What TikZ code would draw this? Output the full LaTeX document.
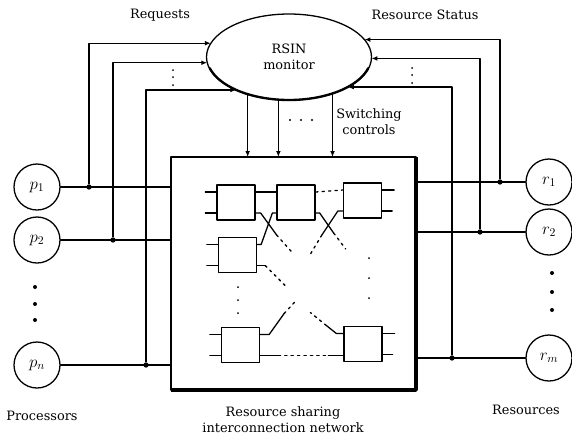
\documentclass[tikz,border=0pt]{standalone}
\usepackage{fontspec}
\setmainfont{DejaVu Serif}
\usetikzlibrary{calc, arrows.meta, shapes.geometric, positioning}
\tikzset{el/.style={line cap=round, line join=round, line width=1.1pt},
  unit/.style={draw, circle, minimum size=1.38cm, inner sep=0pt, font=\Large},
  swbox/.style={draw, rectangle, minimum width=1.14cm, minimum height=1.05cm, inner sep=0pt},
  dotline/.style={dash pattern=on 2pt off 3.5pt},
  jdot/.style={fill, circle, inner sep=0pt, minimum size=4.5pt},
  arr/.style={-{Latex[length=5pt,width=4pt]}}}

\begin{document}
\begin{tikzpicture}[el, x=0.03cm, y=-0.03cm, font=\fontsize{11}{13.6}\selectfont]
  \useasboundingbox (0,0) rectangle (572,438);
  % monitor and network
  \node[draw, ellipse, minimum width=4.95cm, minimum height=2.58cm, inner sep=0pt, outer sep=0pt, align=center] (mon) at (289,57) {RSIN\\monitor};
  \draw[line width=2pt] plot[domain=15:165, samples=40, smooth] ({289+82*cos(\x)},{57+43*sin(\x)});
  \node[draw, minimum width=7.35cm, minimum height=6.99cm, inner sep=0pt, outer sep=0pt] (net) at (293.5,273.5) {};
  \draw[line width=3pt, line cap=butt] (net.north east) -- (net.south east) -- (net.south west);
  % processors and resources
  \node[unit] (p1) at (37,187) {$p_1$};
  \node[unit] (p2) at (37,240) {$p_2$};
  \node[unit] (pn) at (37,365) {$p_n$};
  \node[unit] (r1) at (549,182) {$r_1$};
  \node[unit] (r2) at (549,232) {$r_2$};
  \node[unit] (rm) at (549,358) {$r_m$};
  \foreach \y in {287,304,320}{\fill (35,\y) circle (2);}
  \foreach \y in {273,292,310}{\fill (552,\y) circle (2);}
  \foreach \p in {p1,p2,pn}{\draw (\p) -- (\p -| net.west);}
  \foreach \r in {r1,r2,rm}{\draw (\r) -- (\r -| net.east);}
  \node[jdot] (j1) at (89,187) {};
  \node[jdot] (j2) at (113,240) {};
  \node[jdot] (jn) at (146,365) {};
  \node[jdot] (k1) at (500,182) {};
  \node[jdot] (k2) at (480,232) {};
  \node[jdot] (km) at (452,358) {};
  \draw[arr] (j1) |- (mon.170);
  \draw[arr] (j2) |- (mon.184);
  \draw[arr] (jn) |- (mon.212);
  \draw[arr] (k1) |- (mon.13);
  \draw[arr] (k2) |- (mon.359);
  \draw[arr] (km) |- (mon.333);
  \foreach \y in {70,77,85}{\fill (173,\y) circle (1); \fill (412,\y-2) circle (1);}
  % switching controls
  \foreach \a in {222,256,320}{\draw[arr] (mon.\a) -- (mon.\a |- net.north);}
  \foreach \x in {290,301,312}{\fill (\x,120) circle (1.1);}
  % switches
  \node[swbox] (A) at (236,202.5) {};
  \node[swbox] (B) at (296,202.5) {};
  \node[swbox] (C) at (362.5,200.5) {};
  \node[swbox] (D) at (237.5,255) {};
  \node[swbox] (E) at (240.5,345) {};
  \node[swbox] (F) at (363,344) {};
  \foreach \s in {A,B,C,D,E,F}{
    \coordinate (\s-i1) at ($(\s.west)+(0,-10.5)$);
    \coordinate (\s-i2) at ($(\s.west)+(0,10.5)$);
    \coordinate (\s-o1) at ($(\s.east)+(0,-10.5)$);
    \coordinate (\s-o2) at ($(\s.east)+(0,10.5)$);}
  \foreach \s in {A,D,E}{\draw (\s-i1) -- ++(-11,0); \draw (\s-i2) -- ++(-11,0);}
  \foreach \s in {C,F}{\draw (\s-o1) -- ++(12,0); \draw (\s-o2) -- ++(10,0);}
  \draw (A-o1) -- (B-i1);
  \draw[dotline] (B-o1) -- (C-i1);
  \draw (D-o1) -- ++(4,0) -- ($(B-i2)+(-4,0)$) -- (B-i2);
  \draw (A-o2) -- ++(5,0) -- ++(16,22) coordinate (a2);
  \draw[dotline] (a2) -- ++(16,18);
  \draw (B-o2) -- ++(4,0) -- ++(14,20) coordinate (b2);
  \draw[dotline] (b2) -- ++(12,16);
  \draw (C-i2) -- ++(-5,0) -- ++(-16,24) coordinate (c2);
  \draw[dotline] (c2) -- ++(-12,20);
  \draw (D-o2) -- ++(8,0) coordinate (d2);
  \draw[dotline] (d2) -- ++(20,20);
  \draw (E-o1) -- ++(9,0) -- ++(15,-21) coordinate (e1);
  \draw[dotline] (e1) -- ++(12,-13);
  \draw (F-i1) -- ++(-7,0) -- ++(-10,-8) coordinate (f1);
  \draw[dotline] (f1) -- ++(-16,-13);
  \draw (E-o2) -- ++(18,0) coordinate (e2);
  \draw[dotline] (e2) -- ($(E-o2 -| F.west)+(-15,0)$) coordinate (f2);
  \draw (f2) -- (E-o2 -| F.west);
  \foreach \y in {287,300,313}{\fill (238,\y) circle (1);}
  \foreach \y in {258,278,298}{\fill (369,\y) circle (1);}
  % labels
  \node (req) at (160,15) {Requests};
  \node (stat) at (425,15) {Resource Status};
  \node[align=center] (swc) at (369,122) {Switching\\controls};
  \node (proc) at (42,416) {Processors};
  \node[align=center] (rsn) at (283,420) {Resource sharing\\interconnection network};
  \node (res) at (526,410) {Resources};
\end{tikzpicture}
\end{document}
